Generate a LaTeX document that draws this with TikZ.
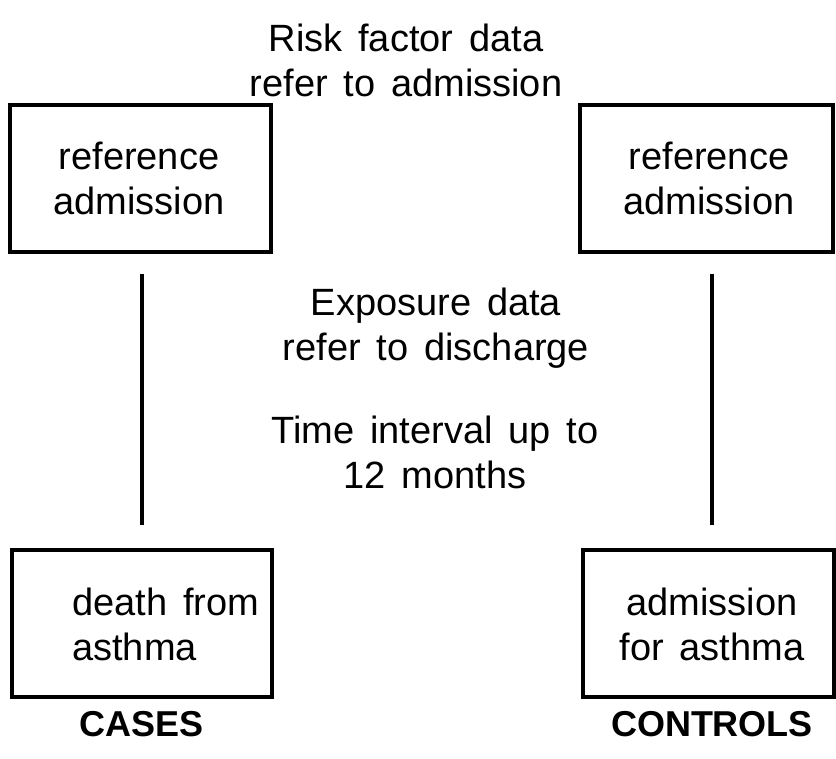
\documentclass[tikz,border=0pt]{standalone}
\usepackage{fontspec}
\setmainfont{Liberation Sans}[WordSpace=1.5]
\begin{document}
\begin{tikzpicture}[x=1pt,y=-1pt,
  boxnode/.style={draw=black, line width=3.5pt, rectangle, inner sep=0pt},
  txt/.style={inner sep=0pt, align=center, font=\fontsize{38}{45}\selectfont},
  txtl/.style={inner sep=0pt, align=left, font=\fontsize{38}{45}\selectfont},
  bold/.style={inner sep=0pt, font=\fontsize{36}{45}\selectfont\bfseries},
  conn/.style={line width=3.5pt}]
\useasboundingbox (0,0) rectangle (836,759);
\node[boxnode, minimum width=261pt, minimum height=147pt] (tl) at (140.5,178.5) {};
\node[boxnode, minimum width=253pt, minimum height=147pt] (tr) at (706.5,178.5) {};
\node[boxnode, minimum width=260pt, minimum height=147pt] (bl) at (142,623.5) {};
\node[boxnode, minimum width=251pt, minimum height=147pt] (br) at (708.5,623.5) {};
\node[txt] (tltext) at (139,178) {reference\\admission};
\node[txt] (trtext) at (709,178) {reference\\admission};
\node[txtl, anchor=west] (bltext) at (72,624) {death from\\asthma};
\node[txt] (brtext) at (712,624) {admission\\for asthma};
\node[txt] (risk) at (406,60) {Risk factor data\\refer to admission};
\node[txt] (expo) at (436,328) {Exposure data\\refer to discharge};
\node[txt] (time) at (435,452) {Time interval up to\\12 months};
\node[bold] (cases) at (142,724) {CASES};
\node[bold] (controls) at (712,724) {CONTROLS};
\coordinate (la) at (142,274);
\coordinate (lb) at (142,525);
\coordinate (ra) at (712,274);
\coordinate (rb) at (712,525);
\draw[conn] (la) -- (lb);
\draw[conn] (ra) -- (rb);
\end{tikzpicture}
\end{document}
